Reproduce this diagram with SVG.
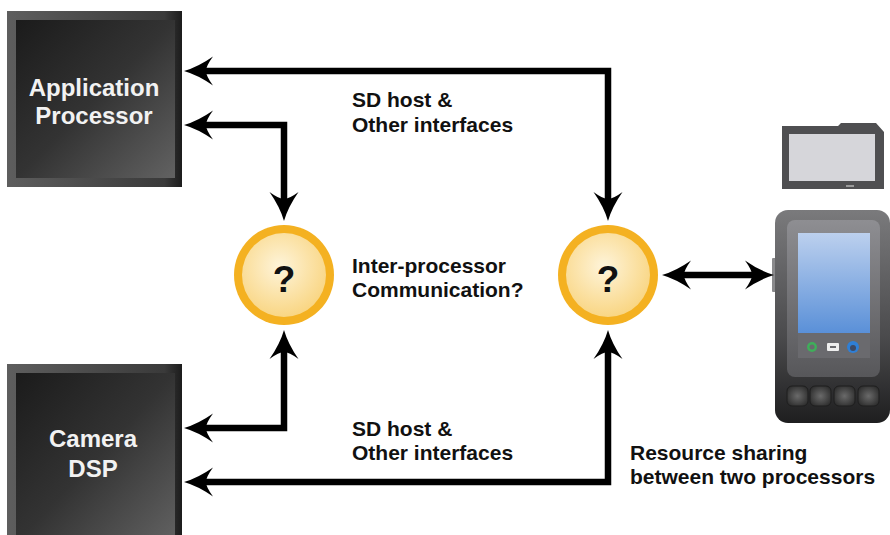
<svg xmlns="http://www.w3.org/2000/svg" width="890" height="535" viewBox="0 0 890 535">
  <defs>
    <linearGradient id="chipEdge" x1="0" y1="0" x2="1" y2="0">
      <stop offset="0" stop-color="#5e5e5e"/>
      <stop offset="0.9" stop-color="#3a3a3a"/>
      <stop offset="1" stop-color="#1c1c1c"/>
    </linearGradient>
    <linearGradient id="chipFace" x1="0" y1="0" x2="1" y2="1">
      <stop offset="0" stop-color="#1b1b1b"/>
      <stop offset="0.5" stop-color="#333333"/>
      <stop offset="1" stop-color="#626262"/>
    </linearGradient>
    <radialGradient id="qFace" cx="0.45" cy="0.4" r="0.6">
      <stop offset="0" stop-color="#fef4da"/>
      <stop offset="1" stop-color="#f9d684"/>
    </radialGradient>
    <linearGradient id="phoneBody" x1="0" y1="0" x2="0" y2="1">
      <stop offset="0" stop-color="#7a7a7c"/>
      <stop offset="0.6" stop-color="#4a4a4c"/>
      <stop offset="1" stop-color="#1e1e1f"/>
    </linearGradient>
    <linearGradient id="phoneBezel" x1="0" y1="0" x2="0" y2="1">
      <stop offset="0" stop-color="#8e8e92"/>
      <stop offset="1" stop-color="#57575a"/>
    </linearGradient>
    <linearGradient id="phoneScreen" x1="0" y1="0" x2="0" y2="1">
      <stop offset="0" stop-color="#bcd0ee"/>
      <stop offset="1" stop-color="#5a90d8"/>
    </linearGradient>
    <radialGradient id="keyFace" cx="0.5" cy="0.5" r="0.6">
      <stop offset="0" stop-color="#6a6a6a"/>
      <stop offset="1" stop-color="#2c2c2c"/>
    </radialGradient>
    <marker id="head" markerUnits="userSpaceOnUse" markerWidth="40" markerHeight="40" refX="0" refY="0" orient="auto-start-reverse" overflow="visible">
      <path d="M15,0 Q1,-4 -14,-14.5 Q-7,-5 -7,0 Q-7,5 -14,14.5 Q1,4 15,0 Z" fill="#000"/>
    </marker>
  </defs>
  <style>
    .chip-edge { fill: url(#chipEdge); }
    .chip-face { fill: url(#chipFace); }
    .chip-label { font-family: "Liberation Sans", Arial, sans-serif; font-weight: bold; font-size: 24px; fill: #f2f2f2; text-anchor: middle; }
    .note { font-family: "Liberation Sans", Arial, sans-serif; font-weight: bold; font-size: 21px; fill: #111; }
    .ring { fill: #f4b121; }
    .ring-face { fill: url(#qFace); }
    .qmark { font-family: "Liberation Sans", Arial, sans-serif; font-weight: bold; font-size: 37px; fill: #111; text-anchor: middle; }
    .link { fill: none; stroke: #000; stroke-width: 6.5; stroke-linejoin: miter; marker-start: url(#head); marker-end: url(#head); }
  </style>

  <rect width="890" height="535" fill="#ffffff"/>

  <!-- processors -->
  <g id="application-processor">
    <rect class="chip-edge" x="7" y="11" width="175" height="176"/>
    <rect class="chip-face" x="16" y="20" width="159" height="158"/>
    <text class="chip-label" x="94" y="96">Application</text>
    <text class="chip-label" x="94" y="124">Processor</text>
  </g>

  <g id="camera-dsp">
    <rect class="chip-edge" x="7" y="364" width="175" height="176"/>
    <rect class="chip-face" x="16" y="373" width="159" height="170"/>
    <text class="chip-label" x="93" y="447">Camera</text>
    <text class="chip-label" x="93" y="477">DSP</text>
  </g>

  <!-- unknown interconnect points -->
  <g id="ipc-unknown">
    <circle class="ring" cx="284" cy="275" r="50"/>
    <circle class="ring-face" cx="284" cy="275" r="42"/>
    <text class="qmark" x="284" y="292">?</text>
  </g>

  <g id="shared-resource-unknown">
    <circle class="ring" cx="608" cy="275" r="50"/>
    <circle class="ring-face" cx="608" cy="275" r="42"/>
    <text class="qmark" x="608" y="292">?</text>
  </g>

  <!-- SD card -->
  <g id="sd-card">
    <path d="M782,126 H838 L841,123 H876 L884,132 V189 H782 Z" fill="#4f4f51"/>
    <rect x="789" y="134" width="86" height="47" fill="#d6d6da"/>
    <rect x="846" y="185" width="8" height="2" fill="#9a9a9a"/>
  </g>

  <!-- handheld device -->
  <g id="handheld-device">
    <rect x="772" y="258" width="5" height="34" rx="1" fill="#8a8a8c"/>
    <rect x="775" y="210" width="115" height="213" rx="13" fill="url(#phoneBody)"/>
    <rect x="787" y="220" width="93" height="157" rx="8" fill="url(#phoneBezel)"/>
    <rect x="798" y="233" width="72" height="100" fill="url(#phoneScreen)"/>
    <rect x="798" y="333" width="72" height="25" fill="#6a6a6e"/>
    <circle cx="812" cy="347" r="5" fill="#3fae5a"/>
    <circle cx="812" cy="347" r="2.5" fill="#6a6a6e"/>
    <rect x="827" y="343" width="12" height="8" rx="1" fill="#eeeeee"/>
    <rect x="830" y="346" width="6" height="2" fill="#6a6a6e"/>
    <circle cx="853" cy="347" r="6" fill="#2f7fd6"/>
    <circle cx="853" cy="348" r="3" fill="#3d4a66"/>
    <rect x="787" y="386" width="21" height="20" rx="5" fill="url(#keyFace)" stroke="#1e1e1e" stroke-width="1"/>
    <rect x="810" y="386" width="21" height="20" rx="5" fill="url(#keyFace)" stroke="#1e1e1e" stroke-width="1"/>
    <rect x="834" y="386" width="21" height="20" rx="5" fill="url(#keyFace)" stroke="#1e1e1e" stroke-width="1"/>
    <rect x="858" y="386" width="21" height="20" rx="5" fill="url(#keyFace)" stroke="#1e1e1e" stroke-width="1"/>
  </g>

  <!-- connectors -->
  <g id="connectors">
    <path class="link" d="M199,71 H608 V206"/>
    <path class="link" d="M199,125 H284 V206"/>
    <path class="link" d="M284,345 V428 H199"/>
    <path class="link" d="M608,345 V482 H199"/>
    <path class="link" d="M677,275 H759"/>
  </g>

  <!-- labels -->
  <g id="labels">
    <text class="note" x="352" y="107">SD host &amp;</text>
    <text class="note" x="352" y="132">Other interfaces</text>
    <text class="note" x="352" y="273">Inter-processor</text>
    <text class="note" x="352" y="297">Communication?</text>
    <text class="note" x="352" y="436">SD host &amp;</text>
    <text class="note" x="352" y="460">Other interfaces</text>
    <text class="note" x="630" y="460">Resource sharing</text>
    <text class="note" x="630" y="484">between two processors</text>
  </g>
</svg>
